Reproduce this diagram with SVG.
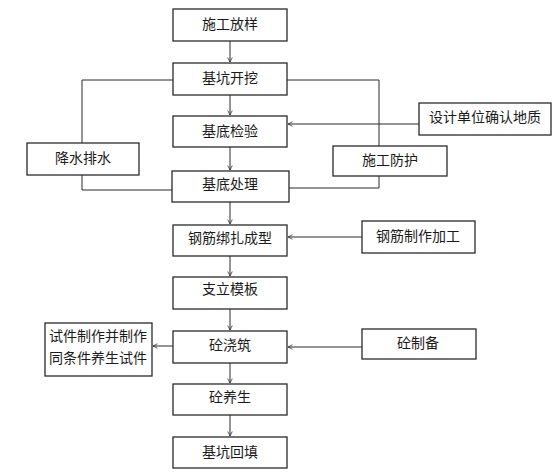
<svg xmlns="http://www.w3.org/2000/svg" width="560" height="472" viewBox="0 0 560 472">
<style>
.b{fill:#fff;stroke:#2a2a2a;stroke-width:1.3}
.t{font-family:"Noto Sans CJK SC","Liberation Sans",sans-serif;font-size:14px;fill:#1a1a1a;text-anchor:middle}
.c{fill:none;stroke:#2a2a2a;stroke-width:1}
</style>
<defs>
<marker id="a" viewBox="0 0 8 8" refX="7" refY="4" markerWidth="6" markerHeight="6" orient="auto" markerUnits="userSpaceOnUse">
<path d="M1,1 L7,4 L1,7" fill="none" stroke="#2a2a2a" stroke-width="1"/>
</marker>
</defs>
<rect width="560" height="472" fill="#fff"/>
<g id="connectors">
<line class="c" x1="230" y1="41" x2="230" y2="62" marker-end="url(#a)"/>
<line class="c" x1="230" y1="95" x2="230" y2="115" marker-end="url(#a)"/>
<line class="c" x1="230" y1="147" x2="230" y2="170" marker-end="url(#a)"/>
<line class="c" x1="230" y1="202" x2="230" y2="224" marker-end="url(#a)"/>
<line class="c" x1="230" y1="256" x2="230" y2="276" marker-end="url(#a)"/>
<line class="c" x1="230" y1="309" x2="230" y2="330" marker-end="url(#a)"/>
<line class="c" x1="230" y1="363" x2="230" y2="383" marker-end="url(#a)"/>
<line class="c" x1="230" y1="415" x2="230" y2="436" marker-end="url(#a)"/>
<polyline class="c" points="173,80 82,80 82,143"/>
<polyline class="c" points="82,175 82,190 172,190"/>
<polyline class="c" points="287,80 379,80 379,146"/>
<polyline class="c" points="379,176 379,188 289,188"/>
<line class="c" x1="419" y1="124" x2="288" y2="124" marker-end="url(#a)"/>
<line class="c" x1="362" y1="237" x2="288" y2="237" marker-end="url(#a)"/>
<line class="c" x1="362" y1="347" x2="288" y2="347" marker-end="url(#a)"/>
<line class="c" x1="173" y1="346" x2="153" y2="346" marker-end="url(#a)"/>
</g>
<g id="n1"><rect class="b" x="173" y="9" width="114" height="32"/><text class="t" x="230" y="29">施工放样</text></g>
<g id="n2"><rect class="b" x="173" y="63" width="114" height="32"/><text class="t" x="230" y="83">基坑开挖</text></g>
<g id="n3"><rect class="b" x="173" y="116" width="114" height="31"/><text class="t" x="230" y="136">基底检验</text></g>
<g id="n4"><rect class="b" x="172" y="171" width="117" height="31"/><text class="t" x="230" y="189">基底处理</text></g>
<g id="n5"><rect class="b" x="173" y="225" width="114" height="31"/><text class="t" x="230" y="243">钢筋绑扎成型</text></g>
<g id="n6"><rect class="b" x="173" y="277" width="114" height="32"/><text class="t" x="230" y="294">支立模板</text></g>
<g id="n7"><rect class="b" x="173" y="331" width="114" height="32"/><text class="t" x="230" y="350">砼浇筑</text></g>
<g id="n8"><rect class="b" x="173" y="384" width="114" height="31"/><text class="t" x="230" y="402">砼养生</text></g>
<g id="n9"><rect class="b" x="173" y="437" width="114" height="31"/><text class="t" x="230" y="457">基坑回填</text></g>
<g id="n10"><rect class="b" x="27" y="143" width="112" height="32"/><text class="t" x="83" y="163">降水排水</text></g>
<g id="n11"><rect class="b" x="333" y="146" width="114" height="30"/><text class="t" x="390" y="165">施工防护</text></g>
<g id="n12"><rect class="b" x="419" y="103" width="132" height="32"/><text class="t" x="485" y="122">设计单位确认地质</text></g>
<g id="n13"><rect class="b" x="362" y="221" width="113" height="32"/><text class="t" x="418" y="241">钢筋制作加工</text></g>
<g id="n14"><rect class="b" x="362" y="329" width="114" height="30"/><text class="t" x="418" y="348">砼制备</text></g>
<g id="n15"><rect class="b" x="45" y="323" width="107" height="53"/><text class="t" x="98" y="341">试件制作并制作</text><text class="t" x="98" y="363">同条件养生试件</text></g>
</svg>
